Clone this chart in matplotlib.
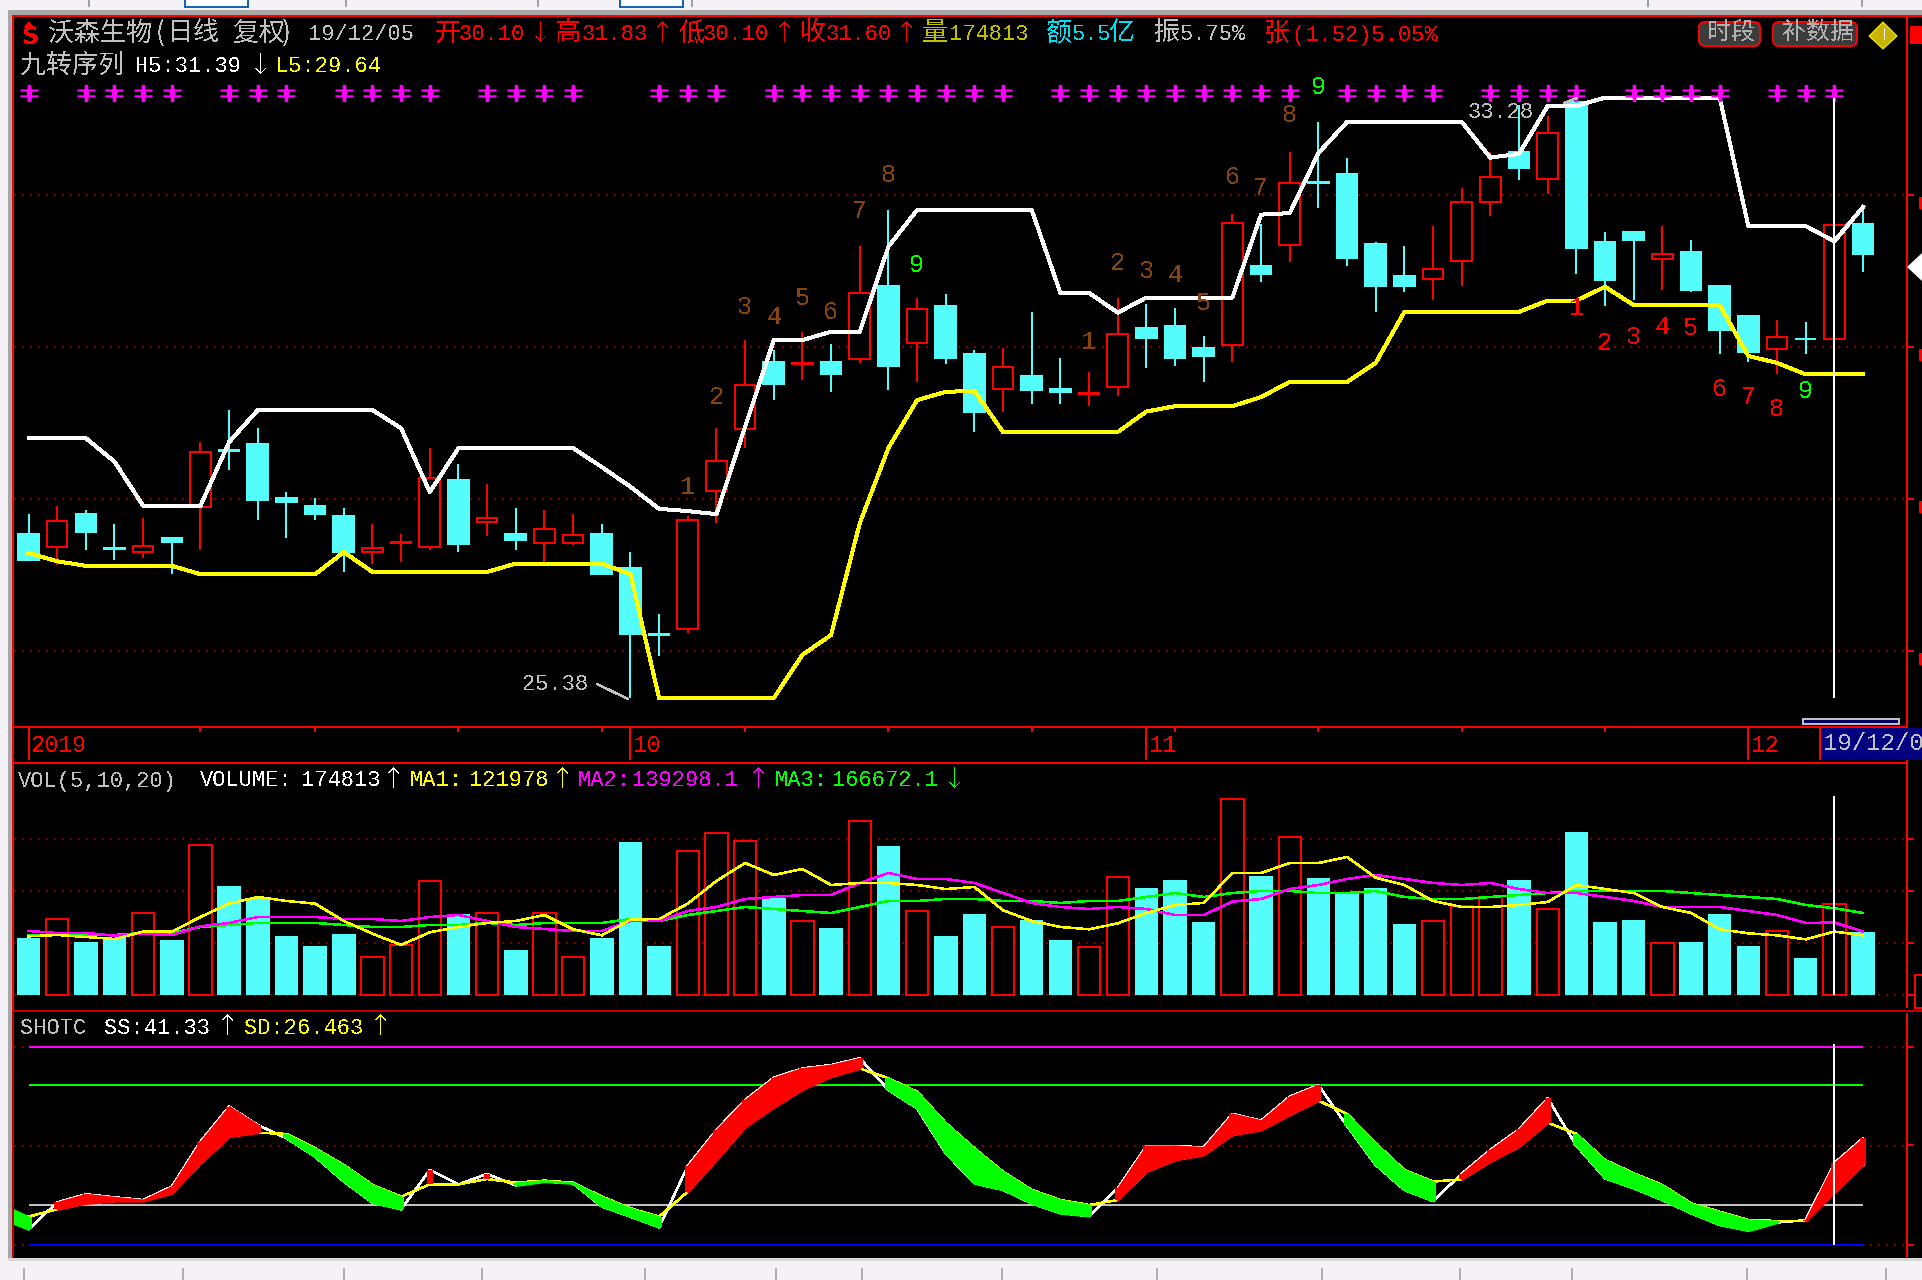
import matplotlib
matplotlib.use("Agg")
import matplotlib.pyplot as plt
from matplotlib.path import Path
from matplotlib.patches import Rectangle, Polygon, FancyBboxPatch
import numpy as np

W, H = 1922, 1280
PX = 0.72  # one pixel in points at dpi 100
RED, CYAN, YEL, MAG, GRN = "#FF0000", "#54FCFC", "#FFFF00", "#FF00FF", "#00FF00"
GRAY, DOT, BROWN = "#C0C0C0", "#800000", "#85450F"

# price pane
opens = [27.54, 27.37, 27.80, 27.35, 27.30, 27.49, 27.90, 28.64, 28.72, 28.01, 27.91, 27.78, 27.30,
         27.42, 27.37, 28.25, 27.70, 27.54, 27.42, 27.42, 27.54, 27.09, 26.22, 26.29, 28.11, 28.92,
         29.80, 29.78, 29.80, 29.84, 30.80, 30.05, 30.54, 29.91, 29.45, 29.62, 29.45, 29.38, 29.47,
         30.25, 30.28, 29.99, 30.03, 31.07, 31.34, 32.17, 32.28, 31.36, 30.93, 30.89, 31.13, 31.90,
         32.57, 32.21, 33.22, 31.38, 31.51, 31.15, 31.25, 30.80, 30.41, 29.97, 30.11, 30.10, 31.62]
closes = [27.20, 27.71, 27.57, 27.34, 27.38, 27.43, 28.62, 28.63, 27.99, 27.96, 27.80, 27.30, 27.36,
          27.43, 28.28, 27.41, 27.75, 27.46, 27.61, 27.53, 27.01, 26.22, 26.21, 27.72, 28.50, 29.50,
          29.51, 29.79, 29.65, 30.71, 29.75, 30.50, 29.86, 29.15, 29.74, 29.43, 29.41, 29.39, 30.17,
          30.12, 29.86, 29.88, 31.63, 30.96, 32.16, 32.16, 31.17, 30.80, 30.80, 31.03, 31.91, 32.24,
          32.36, 32.82, 31.30, 30.88, 31.41, 31.22, 30.75, 30.22, 29.93, 30.13, 30.10, 31.60, 31.22]
highs = [27.80, 27.91, 27.86, 27.67, 27.75, 27.49, 28.75, 29.17, 28.93, 28.09, 28.01, 27.88, 27.67,
         27.54, 28.67, 28.46, 28.20, 27.88, 27.86, 27.80, 27.67, 27.30, 26.49, 27.78, 28.93, 30.09,
         29.96, 30.20, 30.04, 31.33, 31.80, 30.65, 30.70, 29.96, 29.99, 30.46, 29.86, 29.67, 30.65,
         30.57, 30.51, 30.15, 31.75, 31.62, 32.57, 32.96, 32.49, 31.38, 31.33, 31.59, 32.09, 32.57,
         33.18, 33.04, 33.28, 31.51, 31.51, 31.59, 31.41, 30.80, 30.41, 30.36, 30.33, 31.83, 31.86]
lows = [27.20, 27.13, 27.33, 27.20, 27.22, 27.01, 27.33, 28.38, 27.72, 27.49, 27.72, 27.04, 27.15,
        27.17, 27.33, 27.30, 27.51, 27.33, 27.16, 27.40, 27.01, 25.38, 25.93, 26.24, 27.68, 28.67,
        29.30, 29.57, 29.41, 29.79, 29.43, 29.54, 29.78, 28.88, 29.15, 29.25, 29.25, 29.22, 29.36,
        29.72, 29.75, 29.54, 29.80, 30.86, 31.12, 31.83, 31.07, 30.46, 30.72, 30.62, 30.80, 31.72,
        32.20, 32.01, 30.96, 30.54, 30.62, 30.75, 30.72, 29.91, 29.80, 29.65, 29.91, 30.10, 30.99]
h5 = [28.80, 28.80, 28.80, 28.49, 27.91, 27.91, 27.91, 28.75, 29.17, 29.17, 29.17, 29.17, 29.17,
      28.93, 28.09, 28.67, 28.67, 28.67, 28.67, 28.67, 28.42, 28.16, 27.87, 27.84, 27.80, 28.95,
      30.09, 30.09, 30.20, 30.20, 31.32, 31.80, 31.80, 31.80, 31.80, 31.80, 30.71, 30.71, 30.45,
      30.65, 30.65, 30.65, 30.65, 31.74, 31.76, 32.55, 32.96, 32.96, 32.96, 32.96, 32.96, 32.49,
      32.54, 33.17, 33.17, 33.28, 33.28, 33.28, 33.28, 33.28, 31.59, 31.59, 31.59, 31.39, 31.84]
l5 = [27.29, 27.18, 27.12, 27.12, 27.12, 27.12, 27.01, 27.01, 27.01, 27.01, 27.01, 27.30, 27.04,
      27.04, 27.04, 27.04, 27.04, 27.15, 27.15, 27.15, 27.15, 27.01, 25.38, 25.38, 25.38, 25.38,
      25.38, 25.95, 26.21, 27.68, 28.67, 29.30, 29.41, 29.42, 28.88, 28.88, 28.88, 28.88, 28.88,
      29.15, 29.22, 29.22, 29.22, 29.34, 29.54, 29.54, 29.54, 29.79, 30.46, 30.46, 30.46, 30.46,
      30.46, 30.61, 30.61, 30.79, 30.55, 30.55, 30.55, 30.55, 29.88, 29.79, 29.64, 29.64, 29.64]
star_idx = [0, 2, 3, 4, 5, 7, 8, 9, 11, 12, 13, 14, 16, 17, 18, 19, 22, 23, 24, 26, 27, 28, 29, 30, 31,
            32, 33, 34, 36, 37, 38, 39, 40, 41, 42, 43, 44, 46, 47, 48, 49, 51, 52, 53, 54, 56, 57,
            58, 59, 61, 62, 63]
seq_up1_price = [28.16, 29.34, 30.53, 30.40, 30.65, 30.46, 31.79, 32.26, 31.08]   # from idx 23
seq_up2_price = [30.07, 31.11, 31.00, 30.95, 30.58, 32.24, 32.09, 33.05, 33.42]   # from idx 37
seq_dn_price = [30.51, 30.05, 30.13, 30.26, 30.25, 29.45, 29.34, 29.18, 29.42]    # from idx 54

# volume pane, thousands
volume = [109.0, 146.1, 101.3, 109.0, 157.7, 105.1, 288.5, 209.0, 185.9, 112.8, 93.6, 116.7, 73.1,
          96.2, 219.2, 155.1, 157.7, 85.9, 157.7, 73.1, 109.0, 293.6, 93.6, 276.9, 311.5, 296.1,
          185.9, 142.3, 128.2, 334.6, 285.9, 161.5, 112.8, 155.1, 130.8, 143.6, 105.1, 92.3, 226.9,
          205.1, 220.5, 139.7, 376.9, 228.2, 303.8, 224.4, 197.4, 205.1, 135.9, 142.3, 170.5, 188.5,
          220.5, 165.4, 312.8, 139.7, 143.6, 100.0, 101.3, 155.1, 93.6, 123.1, 70.5, 174.8, 120.5]
ma1 = [112.8, 115.4, 111.5, 107.7, 121.8, 121.8, 150.0, 175.6, 188.5, 180.8, 175.6, 142.3, 117.9,
       96.2, 120.5, 130.8, 138.5, 142.3, 153.8, 126.3, 114.7, 144.9, 146.1, 175.6, 219.2, 253.8,
       230.8, 242.3, 211.5, 215.4, 215.4, 211.5, 203.8, 207.7, 162.8, 142.3, 130.8, 126.3, 137.8,
       157.7, 173.1, 176.9, 234.6, 234.6, 253.8, 253.8, 265.4, 225.6, 211.5, 180.8, 169.2, 169.2,
       173.1, 178.8, 211.5, 203.8, 196.1, 169.2, 157.7, 126.3, 118.6, 114.7, 107.0, 122.0, 114.7]
ma2 = [123.1, 119.2, 119.2, 114.1, 117.9, 115.4, 132.0, 138.5, 150.0, 150.0, 150.0, 146.1, 146.1,
       142.3, 150.0, 153.8, 142.3, 130.8, 126.9, 123.1, 123.1, 142.3, 142.3, 161.5, 169.2, 184.6,
       188.5, 192.3, 192.3, 215.4, 234.6, 223.1, 223.1, 215.4, 196.1, 176.9, 169.2, 165.4, 169.2,
       165.4, 153.8, 153.8, 179.5, 184.6, 203.8, 211.5, 223.1, 230.8, 223.1, 215.4, 211.5, 215.4,
       203.8, 196.1, 196.1, 188.5, 180.8, 169.2, 169.2, 169.2, 161.5, 153.8, 138.5, 139.3, 122.0]
ma3 = [115.4, 115.4, 115.4, 115.4, 119.2, 119.2, 130.8, 134.6, 138.5, 138.5, 138.5, 134.6, 130.8,
       130.8, 134.6, 134.6, 138.5, 134.6, 138.5, 138.5, 138.5, 146.1, 142.3, 153.8, 161.5, 169.2,
       165.4, 161.5, 157.7, 169.2, 180.8, 180.8, 184.6, 184.6, 180.8, 180.8, 176.9, 180.8, 180.8,
       188.5, 196.1, 188.5, 196.1, 200.0, 200.0, 196.1, 196.1, 200.0, 188.5, 184.6, 184.6, 188.5,
       192.3, 196.1, 200.0, 200.0, 200.0, 200.0, 196.1, 192.3, 188.5, 184.6, 173.1, 166.7, 157.7]

# oscillator pane, first entry sits one bar left of the window
ss = [13.5, 7.9, 21.5, 25.6, 24.1, 22.7, 29.5, 52.2, 69.9, 60.6, 53.9, 44.6, 32.0, 21.4, 18.0, 37.9,
      30.6, 35.9, 30.1, 32.0, 31.1, 19.4, 14.3, 8.9, 39.9, 58.1, 73.2, 84.5, 89.2, 90.9, 94.3, 78.3,
      69.0, 46.3, 31.1, 27.8, 21.0, 16.0, 14.6, 28.6, 50.0, 50.0, 49.3, 66.2, 62.8, 74.9, 80.8, 60.1,
      40.4, 27.8, 22.2, 35.9, 48.0, 58.4, 74.1, 50.2, 33.7, 28.6, 22.7, 16.0, 10.1, 7.2, 11.3, 12.5,
      41.33, 53.9]
sd = [21.0, 14.3, 18.0, 21.0, 22.1, 22.1, 26.1, 41.2, 54.7, 56.7, 56.1, 48.8, 40.4, 30.3, 24.4, 30.6,
      30.6, 33.3, 31.5, 32.5, 31.5, 24.4, 18.5, 14.3, 26.9, 42.9, 59.5, 69.5, 78.5, 85.0, 89.2, 84.2,
      77.4, 61.6, 48.8, 37.0, 27.8, 22.7, 20.2, 22.7, 37.0, 42.9, 45.5, 55.6, 58.1, 65.7, 72.9, 66.2,
      51.3, 37.9, 32.0, 33.2, 42.1, 49.7, 61.8, 56.1, 42.9, 36.2, 30.3, 21.0, 16.8, 12.6, 12.1, 12.1,
      26.46, 40.4]
osc_levels = [100, 80.8, 20, 0]
osc_level_colors = [MAG, GRN, GRAY, "#0000FF"]

month_idx = [0, 21, 39, 60]
month_labels = ["2019", "10", "11", "12"]
tick_idx = [6, 10, 15, 20, 25, 30, 35, 40, 45, 50, 55]
CURSOR = 63

plt.rcParams["text.antialiased"] = False
fig = plt.figure(figsize=(W / 100, H / 100), dpi=100, facecolor="black")


def pane(top, bottom, ylim):
    ax = fig.add_axes([14 / W, 1 - bottom / H, (1906 - 14) / W, (bottom - top) / H], zorder=2)
    ax.set_xlim(-0.506, 65.5)
    ax.set_ylim(*ylim)
    ax.axis("off")
    return ax


def dotted(ax, levels):
    for v in levels:
        ax.axhline(v, color=DOT, lw=2 * PX, dashes=(1, 3), antialiased=False, zorder=1)


ax_p = pane(17, 727, (25.0, 34.34))
ax_d = pane(727, 763, (36, 0))
ax_v = pane(763, 1011, (-30.8, 446.1))
ax_o = pane(1011, 1258, (-6.6, 118.2))
idx = np.arange(65)

# price pane
dotted(ax_p, [32, 30, 28, 26])
o, c, hi, lo = map(np.array, (opens, closes, highs, lows))
up = c > o
ax_p.vlines(idx[up], lo[up], hi[up], color=RED, lw=2 * PX, antialiased=False, zorder=2)
ax_p.vlines(idx[~up], lo[~up], hi[~up], color=CYAN, lw=2 * PX, antialiased=False, zorder=2)
ax_p.bar(idx[up], (c - o)[up], bottom=o[up], width=0.72, facecolor="black", edgecolor=RED,
         lw=2 * PX, antialiased=False, zorder=2.1)
ax_p.bar(idx[~up], (c - o)[~up], bottom=o[~up], width=0.72, facecolor=CYAN, edgecolor=CYAN,
         lw=2 * PX, antialiased=False, zorder=2.1)
ax_p.plot(idx, h5, color="white", lw=3 * PX, antialiased=False, zorder=3)
ax_p.plot(idx, l5, color=YEL, lw=3 * PX, antialiased=False, zorder=3)


def bar_rect(x0, y0, x1, y1):
    return [(x0, y0), (x1, y0), (x1, y1), (x0, y1), (x0, y0)]


star_parts = [bar_rect(-0.2, -0.95, 0.2, 0.95), bar_rect(-1, 0.2, 1, 0.45), bar_rect(-1, -0.45, 1, -0.2),
              [(0, -0.55), (0.35, 0), (0, 0.55), (-0.35, 0), (0, -0.55)]]
star = Path(np.concatenate(star_parts), np.concatenate(
    [[Path.MOVETO] + [Path.LINETO] * (len(p) - 2) + [Path.CLOSEPOLY] for p in star_parts]))
ax_p.plot(star_idx, [33.34] * len(star_idx), ls="none", marker=star, ms=13, mew=0, color=MAG, zorder=4)

for start, prices, col in [(23, seq_up1_price, BROWN), (37, seq_up2_price, BROWN), (54, seq_dn_price, RED)]:
    for k, p in enumerate(prices):
        ax_p.text(start + k, p, str(k + 1), color=GRN if k == 8 else col, fontsize=25 * PX,
                  family=["Liberation Mono", "DejaVu Sans Mono"], ha="center", va="center", zorder=4)
ax_p.vlines(CURSOR, 25.38, 33.28, color="white", lw=2 * PX, antialiased=False, zorder=5)

# date strip
ax_d.vlines(month_idx, 0, 33, color=RED, lw=2 * PX, antialiased=False)
ax_d.vlines(tick_idx, 0, 5, color=RED, lw=2 * PX, antialiased=False)
for m, lab in zip(month_idx, month_labels):
    ax_d.text(m + 0.1, 19, lab, color=RED, fontsize=23 * PX, family="Liberation Mono", va="center")

# volume pane
dotted(ax_v, [0, 100, 200, 300])
vol = np.array(volume)
ax_v.bar(idx[up], vol[up], width=0.78, facecolor="black", edgecolor=RED, lw=2 * PX,
         antialiased=False, zorder=2)
ax_v.bar(idx[~up], vol[~up], width=0.82, facecolor=CYAN, edgecolor="none", antialiased=False, zorder=2)
for series, col in [(ma3, GRN), (ma2, MAG), (ma1, YEL)]:
    ax_v.plot(idx, series, color=col, lw=1.5 * PX, antialiased=False, zorder=3)
ax_v.vlines(CURSOR, 0, 382.7, color="white", lw=2 * PX, antialiased=False, zorder=5)

# oscillator pane
dotted(ax_o, [100, 50, 0])
ax_o.hlines(osc_levels, 0, 64, colors=osc_level_colors, lw=2 * PX, antialiased=False, zorder=1.5)
xo = np.arange(-1, 65)
s, d = np.array(ss), np.array(sd)
for i in range(len(xo) - 1):
    seg = [i, i + 1]
    if s[i] > d[i] and s[i + 1] > d[i + 1]:
        ax_o.fill_between(xo[seg], s[seg], d[seg], color=RED, lw=2 * PX, antialiased=False, zorder=2)
    elif s[i] < d[i] and s[i + 1] < d[i + 1]:
        ax_o.fill_between(xo[seg], s[seg], d[seg], color=GRN, lw=2 * PX, antialiased=False, zorder=2)
rising = s > d
falling = s < d
ax_o.vlines(xo[rising], d[rising], s[rising], color=RED, lw=6 * PX, antialiased=False, zorder=2)
ax_o.vlines(xo[falling], s[falling], d[falling], color=GRN, lw=6 * PX, antialiased=False, zorder=2)
ax_o.plot(xo[1:], ss[1:], color="white", lw=1.5 * PX, antialiased=False, zorder=1.8)
ax_o.plot(xo[1:], sd[1:], color=YEL, lw=1.5 * PX, antialiased=False, zorder=1.9)
ax_o.vlines(CURSOR, 0, 101.5, color="white", lw=2 * PX, antialiased=False, zorder=5)

# window chrome and header text, in screen pixels
ov = fig.add_axes([0, 0, 1, 1], zorder=10)
ov.set_xlim(0, W)
ov.set_ylim(H, 0)
ov.axis("off")


def rect(x0, y0, x1, y1, col, z=1):
    ov.add_patch(Rectangle((x0, y0), x1 - x0, y1 - y0, facecolor=col, edgecolor="none",
                           antialiased=False, zorder=z))


def txt(x, y, s, col, size=22, cjk=False):
    fam = ["Noto Sans CJK SC", "DejaVu Sans"] if cjk else ["Liberation Mono", "DejaVu Sans Mono"]
    ov.text(x, y, s, color=col, fontsize=size * PX, family=fam, va="center", ha="left", zorder=5)


def arrow(x, y, s, col):
    ov.text(x, y, s, color=col, fontsize=28 * PX, family="DejaVu Sans", weight="light", va="center",
            ha="center", zorder=5)


rect(0, 0, W, 10, "#F5F2F7")
rect(0, 10, W, 15, "#A8A8A8")
rect(0, 10, 8, H, "#F5F2F7")
rect(8, 10, 12, 1262, "#A8A8A8")
rect(0, 1260, W, H, "#F5F2F7")
rect(8, 1258, W, 1261, "#D8D8D8")
for x in [88, 345, 537, 620, 691, 1647, 1861]:
    rect(x, 0, x + 2, 7, "#A0A0A0")
ov.add_patch(Rectangle((185, -3), 63, 10, facecolor="white", edgecolor="#1464B4", lw=2 * PX))
ov.add_patch(Rectangle((620, -3), 63, 10, facecolor="white", edgecolor="#1464B4", lw=2 * PX))
for x in [23, 182, 343, 481, 644, 775, 861, 1001, 1156, 1321, 1459, 1571, 1746, 1885]:
    rect(x, 1268, x + 1.5, H, "#B0B0B0")

rect(12, 15, 1922, 17, RED)
rect(12, 15, 14, 1011, RED)
rect(12, 1011, 14, 1258, "#C00000")
rect(14, 726, 1906, 728, RED)
rect(14, 762, 1906, 764, RED)
rect(14, 1010, 1922, 1012, "#C00000")
rect(1906, 15, 1908, 1008, RED)
rect(1906, 1013, 1908, 1258, RED)
for y in [195, 347, 499, 651, 839, 891, 943, 995, 1047, 1145, 1245]:
    rect(1908, y - 1, 1914, y + 1, RED)
for y in [195, 347, 499, 651]:
    rect(1919, y + 2, 1922, y + 14, RED)

# cursor date box and scroll marker
rect(1819, 728, W, 760, "#000080")
rect(1819, 728, 1821, 760, RED)
txt(1823, 743, "19/12/0", GRAY, 24)
ov.add_patch(Rectangle((1803, 719), 96, 5, facecolor="#000060", edgecolor=GRAY, lw=2 * PX, antialiased=False))

# top right buttons and icons
for x0, x1, lab, lx in [(1699, 1760, "时段", 1707), (1773, 1857, "补数据", 1782)]:
    ov.add_patch(FancyBboxPatch((x0, 22), x1 - x0, 24, boxstyle="round,pad=0,rounding_size=6",
                                facecolor="#3C3C3C", edgecolor=RED, lw=2 * PX))
    txt(lx, 32, lab, "#B0B0B0", 24, cjk=True)
ov.add_patch(Polygon([(1883, 22), (1897, 36), (1883, 49), (1869, 36)], facecolor="#C8B400", edgecolor=YEL, lw=PX))
txt(1879, 35, "!", "#FFFFFF", 18)
rect(1910, 26, 1922, 44, RED)
ov.add_patch(Polygon([(1907, 267), (1922, 253), (1922, 281)], facecolor="white", edgecolor="none"))
ov.add_patch(Rectangle((1915, 975), 12, 33, facecolor="black", edgecolor=RED, lw=2 * PX))

# first header row
ov.text(22, 37, "S", color=RED, fontsize=24 * PX, family="DejaVu Sans", weight="bold", va="center", zorder=5)
ov.add_patch(Polygon([(29, 21), (34, 27), (24, 27)], facecolor=RED, edgecolor="none"))
txt(48, 33, "沃森生物", GRAY, 26, cjk=True)
txt(156, 33, "(", GRAY, 26, cjk=True)
txt(167, 33, "日线", GRAY, 26, cjk=True)
txt(233, 33, "复权", GRAY, 26, cjk=True)
txt(282, 33, ")", GRAY, 26, cjk=True)
txt(308, 35, "19/12/05", GRAY)
txt(435, 33, "开", RED, 26, cjk=True)
txt(459, 35, "30.10", RED)
arrow(541, 34, "↓", RED)
txt(555, 33, "高", RED, 26, cjk=True)
txt(582, 35, "31.83", RED)
arrow(663, 34, "↑", RED)
txt(679, 33, "低", RED, 26, cjk=True)
txt(703, 35, "30.10", RED)
arrow(785, 34, "↑", RED)
txt(800, 33, "收", RED, 26, cjk=True)
txt(826, 35, "31.60", RED)
arrow(907, 34, "↑", RED)
txt(922, 33, "量", "#C0C000", 26, cjk=True)
txt(949, 35, "174813", "#C0C000")
txt(1046, 33, "额", "#00E0F0", 26, cjk=True)
txt(1072, 35, "5.5", "#00E0F0")
txt(1109, 33, "亿", "#00E0F0", 26, cjk=True)
txt(1154, 33, "振", GRAY, 26, cjk=True)
txt(1180, 35, "5.75%", GRAY)
txt(1264, 33, "张", RED, 26, cjk=True)
txt(1292, 35, "(1.52)5.05%", RED)

# second header row
txt(20, 65, "九转序列", GRAY, 26, cjk=True)
txt(135, 67, "H5:31.39", "white")
arrow(261, 66, "↓", "white")
txt(275, 67, "L5:29.64", YEL)

# extreme price notes
txt(1468, 112, "33.28", GRAY)
txt(522, 685, "25.38", GRAY)
ov.plot([597, 628], [684, 699], color=GRAY, lw=1.5 * PX, antialiased=False)
ov.plot([1564, 1577], [103, 98], color=GRAY, lw=1.5 * PX, antialiased=False)

# volume header
txt(18, 781, "VOL(5,10,20)", GRAY)
txt(200, 781, "VOLUME:", "white")
txt(301, 781, "174813", "white")
arrow(394, 780, "↑", "white")
txt(410, 781, "MA1:", YEL)
txt(469, 781, "121978", YEL)
arrow(563, 780, "↑", YEL)
txt(578, 781, "MA2:", MAG)
txt(632, 781, "139298.1", MAG)
arrow(759, 780, "↑", MAG)
txt(775, 781, "MA3:", GRN)
txt(832, 781, "166672.1", GRN)
arrow(955, 780, "↓", GRN)

# oscillator header
txt(20, 1028, "SHOTC", GRAY)
txt(104, 1028, "SS:41.33", "white")
arrow(228, 1027, "↑", "white")
txt(244, 1028, "SD:26.463", YEL)
arrow(381, 1027, "↑", YEL)

fig.savefig("out.png", dpi=100, facecolor="black")
